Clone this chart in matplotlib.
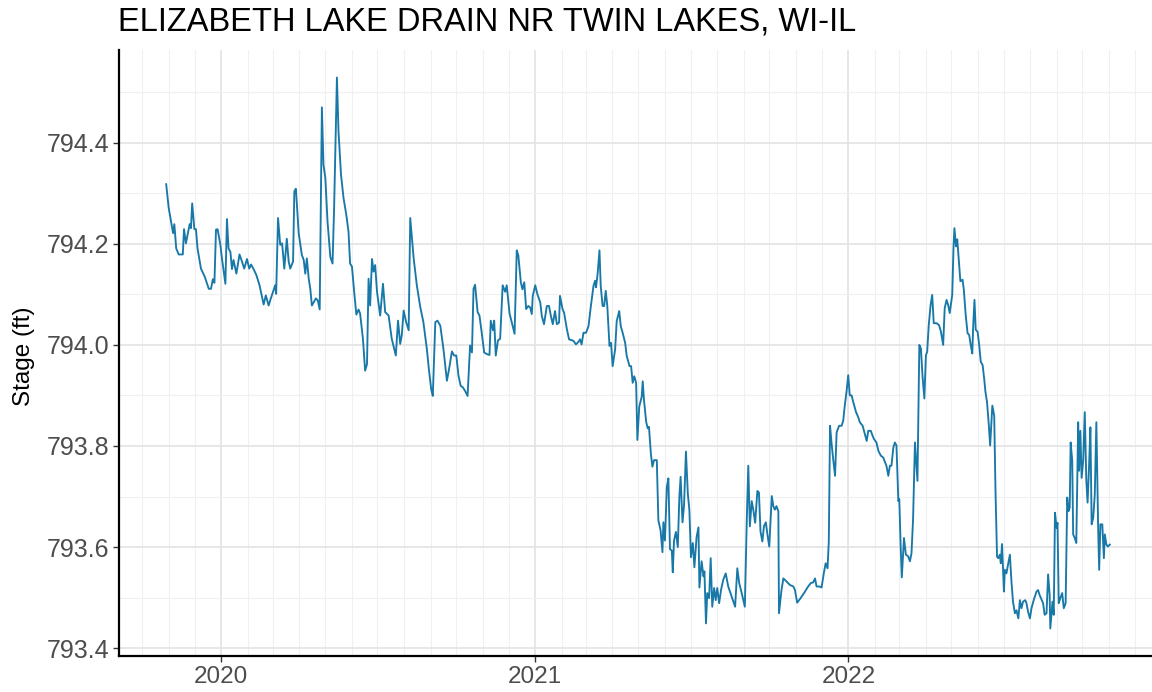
import numpy as np
import pandas as pd
import matplotlib
matplotlib.use("Agg")
import matplotlib.pyplot as plt
import matplotlib.dates as mdates
from matplotlib.ticker import MultipleLocator, FormatStrFormatter

plt.rcParams['font.family'] = ['Liberation Sans', 'DejaVu Sans']

title = "ELIZABETH LAKE DRAIN NR TWIN LAKES, WI-IL"
y_label = "Stage (ft)"

# observation time as decimal year, and stage values (ft)
decimal_year = [
    2019.824, 2019.832, 2019.846, 2019.850, 2019.856, 2019.864, 2019.877, 2019.881, 2019.887, 2019.899,
    2019.903, 2019.907, 2019.914, 2019.919, 2019.924, 2019.935, 2019.947, 2019.960, 2019.967, 2019.973,
    2019.978, 2019.983, 2019.988, 2019.997, 2020.002, 2020.013, 2020.018, 2020.023, 2020.029, 2020.034,
    2020.039, 2020.048, 2020.058, 2020.066, 2020.073, 2020.082, 2020.089, 2020.095, 2020.103, 2020.112,
    2020.122, 2020.135, 2020.142, 2020.151, 2020.158, 2020.172, 2020.175, 2020.181, 2020.188, 2020.194,
    2020.201, 2020.209, 2020.215, 2020.220, 2020.229, 2020.233, 2020.238, 2020.247, 2020.257, 2020.263,
    2020.268, 2020.273, 2020.279, 2020.284, 2020.289, 2020.302, 2020.308, 2020.314, 2020.321, 2020.326,
    2020.332, 2020.339, 2020.348, 2020.355, 2020.360, 2020.369, 2020.374, 2020.382, 2020.390, 2020.399,
    2020.406, 2020.411, 2020.417, 2020.424, 2020.431, 2020.438, 2020.443, 2020.452, 2020.459, 2020.465,
    2020.470, 2020.475, 2020.481, 2020.486, 2020.491, 2020.497, 2020.507, 2020.516, 2020.523, 2020.534,
    2020.544, 2020.557, 2020.564, 2020.571, 2020.576, 2020.582, 2020.590, 2020.598, 2020.603, 2020.614,
    2020.624, 2020.635, 2020.645, 2020.656, 2020.663, 2020.670, 2020.675, 2020.683, 2020.690, 2020.699,
    2020.709, 2020.720, 2020.728, 2020.736, 2020.743, 2020.750, 2020.757, 2020.764, 2020.771, 2020.778,
    2020.786, 2020.794, 2020.800, 2020.805, 2020.810, 2020.818, 2020.824, 2020.831, 2020.839, 2020.847,
    2020.856, 2020.860, 2020.867, 2020.871, 2020.876, 2020.883, 2020.890, 2020.898, 2020.906, 2020.911,
    2020.920, 2020.927, 2020.936, 2020.943, 2020.948, 2020.956, 2020.961, 2020.967, 2020.973, 2020.980,
    2020.986, 2020.991, 2020.994, 2021.002, 2021.009, 2021.018, 2021.023, 2021.030, 2021.039, 2021.046,
    2021.052, 2021.058, 2021.065, 2021.071, 2021.078, 2021.081, 2021.089, 2021.094, 2021.103, 2021.110,
    2021.124, 2021.132, 2021.140, 2021.145, 2021.150, 2021.156, 2021.164, 2021.172, 2021.179, 2021.188,
    2021.193, 2021.196, 2021.201, 2021.207, 2021.211, 2021.217, 2021.222, 2021.227, 2021.232, 2021.239,
    2021.244, 2021.249, 2021.257, 2021.262, 2021.270, 2021.275, 2021.281, 2021.289, 2021.294, 2021.303,
    2021.308, 2021.313, 2021.318, 2021.324, 2021.328, 2021.334, 2021.342, 2021.345, 2021.349, 2021.356,
    2021.361, 2021.365, 2021.371, 2021.376, 2021.381, 2021.390, 2021.395, 2021.402, 2021.408, 2021.411,
    2021.416, 2021.422, 2021.427, 2021.432, 2021.438, 2021.441, 2021.445, 2021.451, 2021.457, 2021.462,
    2021.466, 2021.472, 2021.477, 2021.483, 2021.489, 2021.494, 2021.499, 2021.505, 2021.510, 2021.517,
    2021.523, 2021.526, 2021.533, 2021.539, 2021.542, 2021.547, 2021.551, 2021.557, 2021.562, 2021.567,
    2021.573, 2021.578, 2021.583, 2021.589, 2021.595, 2021.602, 2021.610, 2021.618, 2021.629, 2021.640,
    2021.647, 2021.653, 2021.661, 2021.671, 2021.677, 2021.682, 2021.687, 2021.693, 2021.698, 2021.704,
    2021.711, 2021.716, 2021.721, 2021.727, 2021.732, 2021.738, 2021.744, 2021.749, 2021.757, 2021.762,
    2021.767, 2021.772, 2021.778, 2021.780, 2021.788, 2021.794, 2021.804, 2021.815, 2021.826, 2021.831,
    2021.838, 2021.849, 2021.860, 2021.873, 2021.882, 2021.889, 2021.895, 2021.900, 2021.909, 2021.916,
    2021.923, 2021.929, 2021.935, 2021.939, 2021.943, 2021.948, 2021.953, 2021.959, 2021.964, 2021.972,
    2021.980, 2021.985, 2021.990, 2021.996, 2022.001, 2022.006, 2022.012, 2022.017, 2022.026, 2022.033,
    2022.038, 2022.047, 2022.054, 2022.060, 2022.065, 2022.073, 2022.079, 2022.083, 2022.091, 2022.097,
    2022.100, 2022.105, 2022.113, 2022.119, 2022.123, 2022.129, 2022.134, 2022.139, 2022.145, 2022.150,
    2022.155, 2022.161, 2022.164, 2022.168, 2022.172, 2022.179, 2022.185, 2022.192, 2022.198, 2022.203,
    2022.208, 2022.214, 2022.219, 2022.222, 2022.228, 2022.233, 2022.238, 2022.244, 2022.249, 2022.253,
    2022.258, 2022.264, 2022.269, 2022.274, 2022.283, 2022.291, 2022.297, 2022.304, 2022.309, 2022.315,
    2022.320, 2022.325, 2022.333, 2022.337, 2022.340, 2022.345, 2022.349, 2022.355, 2022.359, 2022.366,
    2022.370, 2022.376, 2022.382, 2022.387, 2022.392, 2022.397, 2022.400, 2022.404, 2022.408, 2022.414,
    2022.419, 2022.424, 2022.430, 2022.435, 2022.439, 2022.444, 2022.450, 2022.454, 2022.458, 2022.461,
    2022.467, 2022.471, 2022.476, 2022.480, 2022.485, 2022.488, 2022.492, 2022.498, 2022.501, 2022.506,
    2022.511, 2022.517, 2022.522, 2022.527, 2022.533, 2022.538, 2022.544, 2022.549, 2022.554, 2022.559,
    2022.566, 2022.570, 2022.575, 2022.581, 2022.586, 2022.593, 2022.602, 2022.607, 2022.612, 2022.623,
    2022.628, 2022.634, 2022.639, 2022.644, 2022.646, 2022.653, 2022.657, 2022.661, 2022.666, 2022.669,
    2022.673, 2022.678, 2022.684, 2022.689, 2022.695, 2022.700, 2022.704, 2022.708, 2022.711, 2022.716,
    2022.719, 2022.724, 2022.729, 2022.735, 2022.738, 2022.742, 2022.746, 2022.751, 2022.756, 2022.761,
    2022.765, 2022.770, 2022.774, 2022.778, 2022.783, 2022.788, 2022.793, 2022.799, 2022.802, 2022.806,
    2022.812, 2022.817, 2022.820, 2022.825, 2022.830, 2022.836,
]

stage_ft = [
    794.318, 794.271, 794.221, 794.239, 794.191, 794.179, 794.179, 794.229, 794.201, 794.239,
    794.231, 794.280, 794.229, 794.229, 794.191, 794.151, 794.135, 794.111, 794.111, 794.130,
    794.123, 794.228, 794.229, 794.198, 794.171, 794.121, 794.249, 794.191, 794.184, 794.150,
    794.168, 794.141, 794.179, 794.165, 794.151, 794.170, 794.151, 794.159, 794.150, 794.138,
    794.118, 794.080, 794.098, 794.078, 794.092, 794.118, 794.101, 794.251, 794.198, 794.201,
    794.151, 794.210, 794.165, 794.151, 794.165, 794.304, 794.309, 794.221, 794.178, 794.168,
    794.141, 794.171, 794.131, 794.111, 794.078, 794.092, 794.088, 794.070, 794.470, 794.357,
    794.330, 794.244, 794.174, 794.161, 794.271, 794.529, 794.423, 794.337, 794.291, 794.257,
    794.224, 794.161, 794.155, 794.105, 794.060, 794.070, 794.062, 794.012, 793.949, 793.962,
    794.131, 794.078, 794.170, 794.145, 794.158, 794.105, 794.058, 794.121, 794.065, 794.058,
    794.012, 793.979, 794.048, 794.002, 794.019, 794.068, 794.045, 794.029, 794.251, 794.171,
    794.118, 794.075, 794.045, 793.992, 793.949, 793.912, 793.899, 794.045, 794.048, 794.038,
    793.992, 793.929, 793.956, 793.987, 793.979, 793.979, 793.939, 793.919, 793.916, 793.909,
    793.899, 793.999, 793.985, 794.111, 794.119, 794.065, 794.058, 794.025, 793.985, 793.982,
    793.980, 794.048, 794.029, 794.048, 793.979, 794.009, 794.012, 794.118, 794.105, 794.118,
    794.062, 794.045, 794.022, 794.187, 794.177, 794.124, 794.110, 794.124, 794.071, 794.077,
    794.074, 794.061, 794.097, 794.118, 794.100, 794.084, 794.057, 794.041, 794.077, 794.077,
    794.057, 794.041, 794.067, 794.041, 794.044, 794.097, 794.071, 794.064, 794.031, 794.011,
    794.008, 794.001, 794.006, 794.011, 794.001, 794.024, 794.024, 794.037, 794.074, 794.117,
    794.127, 794.114, 794.140, 794.187, 794.117, 794.077, 794.077, 794.107, 794.077, 793.998,
    794.004, 793.958, 793.991, 794.047, 794.067, 794.037, 794.024, 794.004, 793.978, 793.958,
    793.958, 793.925, 793.938, 793.925, 793.812, 793.878, 793.898, 793.928, 793.892, 793.848,
    793.835, 793.838, 793.785, 793.759, 793.772, 793.772, 793.653, 793.633, 793.590, 793.649,
    793.613, 793.719, 793.736, 793.596, 793.593, 793.550, 793.613, 793.630, 793.600, 793.699,
    793.739, 793.649, 793.683, 793.789, 793.706, 793.673, 793.580, 793.608, 793.560, 793.620,
    793.639, 793.520, 793.572, 793.542, 793.552, 793.449, 793.509, 793.499, 793.578, 793.482,
    793.519, 793.495, 793.519, 793.489, 793.515, 793.535, 793.548, 793.522, 793.502, 793.482,
    793.558, 793.529, 793.509, 793.482, 793.648, 793.761, 793.641, 793.691, 793.674, 793.648,
    793.711, 793.708, 793.631, 793.611, 793.641, 793.649, 793.621, 793.601, 793.701, 793.681,
    793.674, 793.681, 793.671, 793.469, 793.515, 793.538, 793.532, 793.525, 793.522, 793.515,
    793.490, 793.499, 793.509, 793.522, 793.529, 793.530, 793.538, 793.522, 793.522, 793.520,
    793.548, 793.568, 793.558, 793.611, 793.840, 793.804, 793.774, 793.741, 793.827, 793.840,
    793.840, 793.850, 793.880, 793.910, 793.940, 793.900, 793.900, 793.887, 793.867, 793.857,
    793.847, 793.840, 793.824, 793.810, 793.830, 793.830, 793.820, 793.814, 793.807, 793.791,
    793.787, 793.781, 793.777, 793.767, 793.761, 793.741, 793.761, 793.761, 793.797, 793.807,
    793.801, 793.691, 793.695, 793.609, 793.540, 793.618, 793.585, 793.582, 793.572, 793.588,
    793.655, 793.807, 793.761, 793.731, 794.000, 793.993, 793.940, 793.894, 793.980, 793.986,
    794.039, 794.079, 794.099, 794.043, 794.043, 794.039, 794.026, 794.000, 794.073, 794.089,
    794.079, 794.063, 794.099, 794.192, 794.231, 794.195, 794.209, 794.159, 794.126, 794.129,
    794.109, 794.059, 794.023, 794.020, 794.000, 793.983, 794.039, 794.089, 794.030, 794.026,
    794.000, 793.967, 793.960, 793.933, 793.907, 793.887, 793.840, 793.801, 793.847, 793.880,
    793.860, 793.714, 793.581, 793.578, 793.585, 793.568, 793.606, 793.512, 793.555, 793.548,
    793.565, 793.585, 793.532, 793.492, 793.469, 793.475, 793.459, 793.495, 793.479, 793.492,
    793.495, 793.489, 793.472, 793.459, 793.479, 793.495, 793.512, 793.515, 793.505, 793.489,
    793.466, 793.469, 793.546, 793.505, 793.439, 793.492, 793.466, 793.668, 793.638, 793.648,
    793.489, 793.499, 793.509, 793.479, 793.489, 793.698, 793.671, 793.678, 793.807, 793.771,
    793.625, 793.618, 793.608, 793.847, 793.751, 793.830, 793.737, 793.771, 793.867, 793.731,
    793.688, 793.764, 793.837, 793.645, 793.658, 793.704, 793.847, 793.631, 793.555, 793.645,
    793.645, 793.578, 793.625, 793.605, 793.601, 793.605,
]

y_ticks = [793.4, 793.6, 793.8, 794.0, 794.2, 794.4]

yr = np.array(decimal_year)
dates = pd.Timestamp("2020-01-01") + pd.to_timedelta((yr - 2020.0) * 365.25, unit="D")
vals = np.array(stage_ft)

W, H = 1152, 692
fig = plt.figure(figsize=(W / 100, H / 100), dpi=100)

# panel: left spine at px 119, bottom at px 656, top at px 50; extends past right edge
ax = fig.add_axes([119 / W, (H - 656) / H, 1038 / W, (656 - 50) / H])

ax.plot(dates, vals, color="#1878A8", lw=1.35, zorder=3)

# ggplot-style 5% expansion
dn = mdates.date2num(dates)
xr = dn.max() - dn.min()
ax.set_xlim(dn.min() - 0.05 * xr, dn.max() + 0.05 * xr)
yr_ = vals.max() - vals.min()
ax.set_ylim(vals.min() - 0.05 * yr_, vals.max() + 0.05 * yr_)

ax.xaxis.set_major_locator(mdates.YearLocator())
ax.xaxis.set_major_formatter(mdates.DateFormatter("%Y"))
ax.xaxis.set_minor_locator(mdates.MonthLocator())
ax.set_yticks(y_ticks)
ax.yaxis.set_major_formatter(FormatStrFormatter("%.1f"))
ax.yaxis.set_minor_locator(MultipleLocator(0.1))

ax.grid(which="major", color="#E3E3E3", lw=1.2, zorder=0)
ax.grid(which="minor", color="#F0F0F0", lw=0.8, zorder=0)
ax.set_axisbelow(True)

for s in ["top", "right"]:
    ax.spines[s].set_visible(False)
for s in ["left", "bottom"]:
    ax.spines[s].set_color("black")
    ax.spines[s].set_linewidth(1.6)

ax.tick_params(axis="both", which="major", length=4, width=1.0, color="#333333",
               labelcolor="#4D4D4D", pad=3)
ax.tick_params(axis="y", which="major", labelsize=18)
ax.tick_params(axis="x", which="major", labelsize=17.5)
ax.tick_params(axis="both", which="minor", length=0)

fig.text(24 / W, 1 - 356 / H, y_label, fontsize=17.5, color="black", rotation=90,
         ha="center", va="center")
fig.text(118 / W, 1 - 22 / H, title, fontsize=23.5, color="black", ha="left", va="center")

fig.savefig("out.png", dpi=100)
